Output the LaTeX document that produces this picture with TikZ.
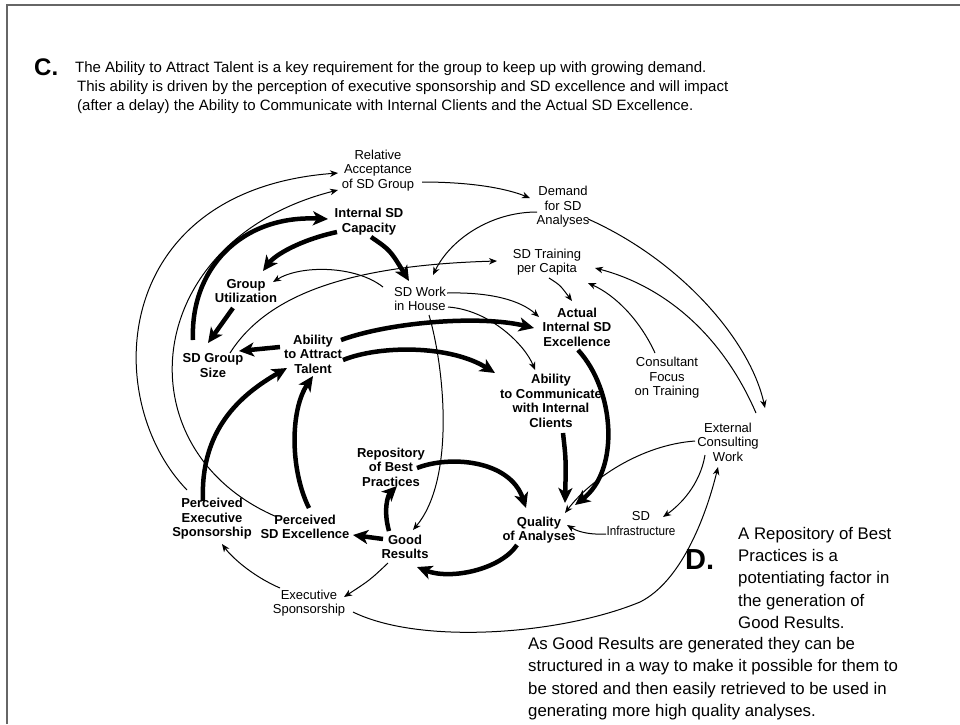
\documentclass[tikz,border=0pt]{standalone}
\usepackage{fontspec}
\setmainfont{Liberation Sans}
\usetikzlibrary{arrows.meta,calc}

\tikzset{
  lab/.style={align=center, inner sep=0pt, font=\fontsize{13}{14.5}\selectfont},
  blab/.style={lab, font=\fontsize{13}{14.5}\selectfont\bfseries},
  thin/.style={line width=1pt, -{Stealth[length=8pt,width=6.5pt,inset=2.5pt]}},
  heavy/.style={line width=4.5pt, -{Stealth[length=15pt,width=14pt,inset=4pt]}},
  hdr/.style={anchor=base west, inner sep=0pt, font=\fontsize{15}{19}\selectfont},
  note/.style={anchor=base west, inner sep=0pt, font=\fontsize{16.8}{22}\selectfont},
  frame/.style={draw=black!60, line width=1.5pt}
}

\begin{document}
\begin{tikzpicture}[x=1pt, y=-1pt]
\useasboundingbox (0,0) rectangle (960,724);

% frame lines along the top and left edges
\draw[frame] (7,724) -- (7,5) -- (960,5);

% header text
\node[anchor=base west, inner sep=0pt, font=\fontsize{24}{24}\selectfont\bfseries] (cmark) at (34,75) {C.};
\node[hdr] (h1) at (75,72) {The Ability to Attract Talent is a key requirement for the group to keep up with growing demand.};
\node[hdr] (h2) at (77,91) {This ability is driven by the perception of executive sponsorship and SD excellence and will impact};
\node[hdr] (h3) at (77,110) {(after a delay) the Ability to Communicate with Internal Clients and the Actual SD Excellence.};

% variables
\node[lab]  (rel)   at (378,170.5) {Relative\\Acceptance\\of SD Group};
\node[lab]  (dem)   at (563,207)   {Demand\\for SD\\Analyses};
\node[blab] (cap)   at (369,221.5) {Internal SD\\Capacity};
\node[blab] (util)  at (246,291)   {Group\\Utilization};
\node[lab]  (work)  at (420,299)   {SD Work\\in House};
\node[lab]  (train) at (547,262)   {SD Training\\per Capita};
\node[blab] (size)  at (213,365.5) {SD Group\\Size};
\node[blab] (att)   at (313,354)   {Ability\\to Attract\\Talent};
\node[blab] (act)   at (577,327)   {Actual\\Internal SD\\Excellence};
\node[lab]  (cons)  at (667,378)   {Consultant\\Focus\\on Training};
\node[blab] (comm)  at (551,401)   {Ability\\to Communicate\\with Internal\\Clients};
\node[lab]  (ext)   at (728,442)   {External\\Consulting\\Work};
\node[blab] (repo)  at (391,467)   {Repository\\of Best\\Practices};
\node[blab] (pes)   at (212,519)   {Perceived\\Executive\\Sponsorship};
\node[blab] (psd)   at (305,527)   {Perceived\\SD Excellence};
\node[blab] (good)  at (405,547)   {Good\\Results};
\node[lab]  (esp)   at (309,603)   {Executive\\Sponsorship};
\node[blab] (qual)  at (539,530)   {Quality\\of Analyses};
\node[lab]  (infra) at (641,523.5) {SD\\\scalebox{0.9}[1]{Infrastructure}};

% thin links
\draw[thin] ($(pes)+(-25,-29)$) .. controls (100,400) and (110,190) .. ($(rel)+(-40,2.5)$);
\draw[thin] ($(psd)+(-28,-10)$) .. controls (120,450) and (140,240) .. ($(rel)+(-40,19.5)$);
\draw[thin] ($(rel)+(44,11.5)$) .. controls (470,182) and (505,188) .. ($(dem)+(-33,-9)$);
\draw[thin] ($(dem)+(-26,5)$) .. controls (490,212) and (450,240) .. ($(work)+(13,-24)$);
\draw[thin] ($(dem)+(25,12)$) .. controls (680,260) and (750,340) .. ($(ext)+(37,-34)$);
\draw[thin] ($(ext)+(28,-29)$) .. controls (720,330) and (660,285) .. ($(train)+(48,6)$);
\draw[thin] ($(cons)+(-12,-25)$) .. controls (640,320) and (615,295) .. ($(train)+(41,21)$);
\draw[thin] ($(train)+(2,16)$) .. controls (560,285) .. ($(act)+(-5,-26)$);
\draw[thin] ($(size)+(17,-12.5)$) .. controls (270,290) and (360,265) .. ($(train)+(-50,-1)$);
\draw[thin] ($(work)+(-37,-12)$) .. controls (355,265) and (300,265) .. ($(util)+(27,-9)$);
\draw[thin] ($(work)+(27,-6)$) .. controls (490,292) and (520,300) .. ($(act)+(-38,-10)$);
\draw[thin] ($(work)+(28,8)$) .. controls (490,310) and (525,345) .. ($(comm)+(-16,-31)$);
\draw[thin] ($(work)+(9,16)$) .. controls (445,370) and (455,480) .. ($(good)+(8,-17)$);
\draw[thin] ($(ext)+(-33,-1)$) .. controls (640,445) and (590,480) .. ($(qual)+(26,-17)$);
\draw[thin] ($(ext)+(-23,13)$) .. controls (700,485) and (680,505) .. ($(infra)+(22,-6.5)$);
\draw[thin] ($(infra)+(-35,10.5)$) .. controls (585,535) and (575,530) .. ($(qual)+(28,-5)$);
\draw[thin] ($(esp)+(44,9)$) .. controls (420,645) and (560,635) .. (640,602)
                             .. controls (680,582) and (705,520) .. ($(ext)+(-10,25)$);
\draw[thin] ($(good)+(-17,16)$) .. controls (370,580) .. ($(esp)+(35,-6)$);
\draw[thin] ($(esp)+(-29,-15)$) .. controls (250,575) and (230,555) .. ($(pes)+(10,25)$);

% heavy links
\draw[heavy] ($(size)+(-20,-25.5)$) .. controls (190,270) and (240,215) .. ($(cap)+(-41,-2.5)$);
\draw[heavy] ($(cap)+(-32,10.5)$) .. controls (300,240) and (275,255) .. ($(util)+(17,-20)$);
\draw[heavy] ($(util)+(-13,17)$) -- ($(size)+(-5,-22.5)$);
\draw[heavy] ($(cap)+(2,15.5)$) .. controls (390,250) .. ($(work)+(-11,-18)$);
\draw[heavy] ($(att)+(-33,-7)$) -- ($(size)+(26,-14.5)$);
\draw[heavy] ($(att)+(28,-14)$) .. controls (390,322) and (480,315) .. ($(act)+(-43,1)$);
\draw[heavy] ($(att)+(30,6)$) .. controls (380,345) and (450,345) .. ($(comm)+(-56,-28)$);
\draw[heavy] ($(pes)+(-9,-18)$) .. controls (200,430) and (240,395) .. ($(att)+(-26,14)$);
\draw[heavy] ($(psd)+(4,-19)$) .. controls (290,470) and (290,410) .. ($(att)+(0,22)$);
\draw[heavy] ($(good)+(-22,-8)$) -- ($(psd)+(48,8)$);
\draw[heavy] ($(good)+(-16,-16)$) .. controls (383,510) and (388,495) .. ($(repo)+(6,19)$);
\draw[heavy] ($(repo)+(26,1)$) .. controls (450,455) and (510,460) .. ($(qual)+(-13,-22)$);
\draw[heavy] ($(qual)+(-22,15)$) .. controls (500,570) and (450,580) .. ($(good)+(12,20)$);
\draw[heavy] ($(comm)+(12,32)$) .. controls (566,460) .. ($(qual)+(26,-27)$);
\draw[heavy] ($(act)+(1,23)$) .. controls (615,390) and (620,470) .. ($(qual)+(36,-25)$);

% notes
\node[anchor=base west, inner sep=0pt, font=\fontsize{29}{29}\selectfont\bfseries] (dmark) at (685,569) {D.};
\node[note] (d1) at (738,539) {A Repository of Best};
\node[note] (d2) at (738,561) {Practices is a};
\node[note] (d3) at (738,583) {potentiating factor in};
\node[note] (d4) at (738,606) {the generation of};
\node[note] (d5) at (738,628) {Good Results.};
\node[note] (e1) at (528,649) {As Good Results are generated they can be};
\node[note] (e2) at (528,671) {structured in a way to make it possible for them to};
\node[note] (e3) at (528,694) {be stored and then easily retrieved to be used in};
\node[note] (e4) at (528,716) {generating more high quality analyses.};
\end{tikzpicture}
\end{document}
